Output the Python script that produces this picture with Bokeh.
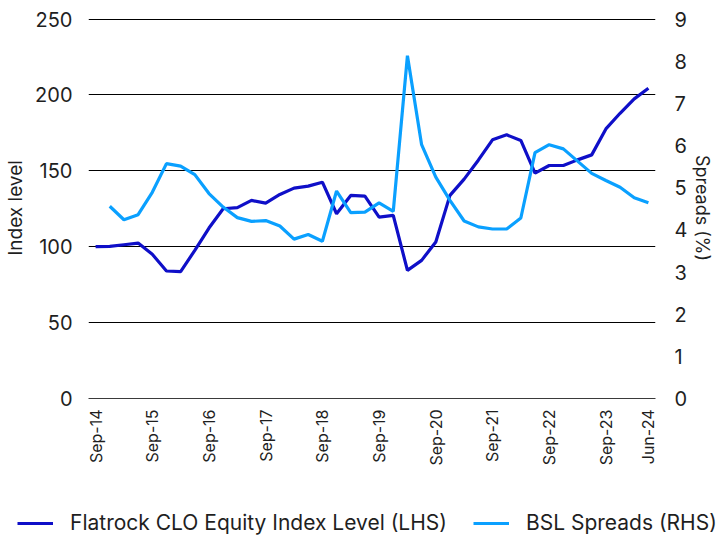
import math
from bokeh.plotting import figure
from bokeh.layouts import column
from bokeh.models import (Range1d, LinearAxis, FixedTicker, Legend, LegendItem,
                          ColumnDataSource)
from bokeh.embed import file_html
from bokeh.resources import INLINE

# ---- data (quarterly, Sep-14 .. Jun-24) ----
quarters = list(range(40))
tick_positions = [0, 4, 8, 12, 16, 20, 24, 28, 32, 36, 39]
tick_labels = ["Sep-14", "Sep-15", "Sep-16", "Sep-17", "Sep-18", "Sep-19",
               "Sep-20", "Sep-21", "Sep-22", "Sep-23", "Jun-24"]

index_level = [100.0, 100.2, 101.3, 102.4, 95.0, 84.0, 83.6, 97.6, 112.3, 125.0,
               125.7, 130.5, 128.7, 134.4, 138.6, 139.9, 142.5, 121.7, 133.8, 133.3,
               119.5, 120.6, 84.4, 91.0, 103.1, 133.8, 144.5, 157.0, 170.4, 173.7,
               170.0, 148.5, 153.5, 153.5, 157.2, 160.5, 177.6, 187.9, 197.4, 204.4]

bsl_spreads = [float("nan"), 4.56, 4.24, 4.36, 4.89, 5.57, 5.51, 5.31, 4.86, 4.54,
               4.29, 4.20, 4.22, 4.09, 3.78, 3.89, 3.73, 4.92, 4.41, 4.42,
               4.64, 4.44, 8.13, 6.02, 5.25, 4.70, 4.21, 4.07, 4.02, 4.02,
               4.28, 5.83, 6.02, 5.92, 5.63, 5.34, 5.17, 5.01, 4.76, 4.64]

left_ticks = [0, 50, 100, 150, 200, 250]
right_ticks = [0, 1, 2, 3, 4, 5, 6, 7, 8, 9]
left_max, right_max = 250, 9

series_names = ["Flatrock CLO Equity Index Level (LHS)", "BSL Spreads (RHS)"]
left_title, right_title = "Index level", "Spreads (%)"

DARK = "#0F0FC8"
LIGHT = "#0AA0FF"
FONT = "Inter"
TXT = "#1f1f1f"
LW = 3.2

src = ColumnDataSource(dict(q=quarters, idx=index_level, spr=bsl_spreads))


def no_align(fig):
    try:
        fig.frame_align = False
    except Exception:
        pass


pad = 1.004  # tiny headroom so the top gridline is not clipped
p = figure(width=719, height=494, output_backend="svg", toolbar_location=None,
           x_range=Range1d(-0.5, 39.5), y_range=Range1d(0, left_max * pad),
           min_border_left=88, min_border_right=64, min_border_top=17,
           min_border_bottom=96, outline_line_color=None)
p.extra_y_ranges = {"spr": Range1d(0, right_max * pad)}
no_align(p)

# grid
p.xgrid.grid_line_color = None
p.ygrid.grid_line_color = "black"
p.ygrid.grid_line_width = 1
p.ygrid.ticker = FixedTicker(ticks=left_ticks)

# x axis
xa = p.xaxis[0]
xa.ticker = FixedTicker(ticks=tick_positions)
xa.major_label_overrides = {t: l for t, l in zip(tick_positions, tick_labels)}
xa.major_label_orientation = math.pi / 2
xa.major_tick_line_color = None
xa.minor_tick_line_color = None
xa.axis_line_color = "#3a3a3a"
xa.major_label_text_font = FONT
xa.major_label_text_font_size = "16px"
xa.major_label_text_color = TXT
xa.major_label_standoff = 5

# left axis
ya = p.yaxis[0]
ya.ticker = FixedTicker(ticks=left_ticks)
ya.major_tick_line_color = None
ya.minor_tick_line_color = None
ya.axis_line_color = None
ya.major_label_text_font = FONT
ya.major_label_text_font_size = "20px"
ya.major_label_text_color = TXT
ya.major_label_standoff = 10
ya.axis_label = left_title
ya.axis_label_text_font = FONT
ya.axis_label_text_font_size = "19px"
ya.axis_label_text_font_style = "normal"
ya.axis_label_text_color = TXT
ya.axis_label_standoff = 5

# right axis
ra = LinearAxis(y_range_name="spr", ticker=FixedTicker(ticks=right_ticks))
ra.major_tick_line_color = None
ra.minor_tick_line_color = None
ra.axis_line_color = None
ra.major_label_text_font = FONT
ra.major_label_text_font_size = "20px"
ra.major_label_text_color = TXT
ra.major_label_standoff = 13
ra.axis_label = right_title
ra.axis_label_text_font = FONT
ra.axis_label_text_font_size = "18px"
ra.axis_label_text_font_style = "normal"
ra.axis_label_text_color = TXT
ra.axis_label_standoff = 2
p.add_layout(ra, "right")

p.line("q", "idx", source=src, line_color=DARK, line_width=LW)
p.line("q", "spr", source=src, y_range_name="spr", line_color=LIGHT, line_width=LW)

# ---- legend strip below the chart (its own plot, lines fall outside its ranges) ----
lg = figure(width=719, height=41, output_backend="svg", toolbar_location=None,
            x_axis_location=None, y_axis_location=None,
            x_range=Range1d(-100, -99), y_range=Range1d(-100, -99),
            min_border=0, outline_line_color=None)
no_align(lg)
lg.xgrid.grid_line_color = None
lg.ygrid.grid_line_color = None
k1 = lg.line("q", "idx", source=src, line_color=DARK, line_width=LW)
k2 = lg.line("q", "spr", source=src, line_color=LIGHT, line_width=LW)
legend = Legend(items=[LegendItem(label=series_names[0], renderers=[k1]),
                       LegendItem(label=series_names[1], renderers=[k2])],
                orientation="horizontal", location=(17, 0),
                glyph_width=36, glyph_height=20, label_standoff=17, spacing=26,
                padding=0, margin=0, border_line_color=None,
                background_fill_alpha=0,
                label_text_font=FONT, label_text_font_size="21px",
                label_text_color=TXT)
lg.add_layout(legend, "center")

page = column(p, lg, spacing=0)
open("out.html", "w").write(file_html(page, INLINE))
